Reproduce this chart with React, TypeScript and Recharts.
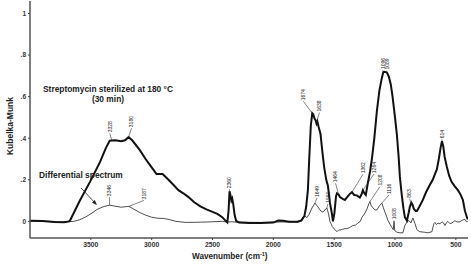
import React from 'react';
import { LineChart, Line, XAxis, YAxis, ReferenceDot } from 'recharts';

// Streptomycin sterilized at 180 °C (thick line)
const sampleWavenumbers = [4000,3900,3800,3720,3680,3671,3590,3507,3425,3375,3345,3300,3250,3220,3190,3160,3100,3050,3000,2960,2910,2870,2820,2780,2740,2700,2650,2600,2550,2500,2460,2420,2395,2378,2368,2360,2352,2345,2338,2330,2318,2305,2280,2200,2100,2000,1960,1920,1870,1800,1770,1745,1730,1716,1705,1692,1680,1672,1662,1652,1645,1638,1628,1612,1598,1582,1565,1551,1535,1518,1510,1498,1485,1477,1464,1453,1430,1412,1395,1375,1354,1335,1314,1289,1275,1264,1252,1240,1223,1205,1190,1170,1149,1128,1108,1096,1085,1066,1050,1035,1020,1000,985,970,960,945,930,919,902,888,878,866,856,845,830,820,800,771,745,714,690,670,656,640,625,614,603,592,575,555,535,510,483,462,442,425,409,402];
const sampleKM = [0.003,0.002,-0.003,-0.004,0.0,0.004,0.1,0.19,0.285,0.355,0.388,0.39,0.385,0.39,0.405,0.39,0.345,0.3,0.26,0.228,0.228,0.205,0.175,0.15,0.135,0.118,0.092,0.072,0.058,0.046,0.036,0.02,0.005,-0.005,0.05,0.145,0.125,0.1,0.11,0.085,0.03,0.002,-0.006,-0.008,-0.008,-0.006,0.004,0.003,-0.002,-0.002,0.004,0.025,0.07,0.15,0.3,0.46,0.52,0.515,0.495,0.485,0.47,0.48,0.455,0.42,0.34,0.26,0.2,0.17,0.09,0.035,0.0,0.04,0.12,0.135,0.13,0.117,0.108,0.103,0.115,0.13,0.14,0.127,0.125,0.115,0.13,0.15,0.135,0.127,0.185,0.24,0.3,0.4,0.53,0.63,0.69,0.718,0.72,0.716,0.695,0.66,0.6,0.5,0.42,0.31,0.215,0.13,0.06,0.02,0.004,0.04,0.07,0.09,0.08,0.06,0.05,0.05,0.07,0.103,0.14,0.175,0.2,0.23,0.25,0.3,0.355,0.385,0.36,0.31,0.265,0.22,0.19,0.17,0.15,0.13,0.103,0.05,0.02,0.01];

// Differential spectrum (thin line)
const diffWavenumbers = [4000,3850,3720,3640,3590,3540,3490,3450,3400,3346,3300,3250,3210,3187,3150,3100,3050,3000,2950,2900,2850,2800,2720,2600,2500,2420,2380,2340,2300,2100,1950,1800,1770,1757,1740,1724,1705,1683,1658,1634,1610,1593,1575,1560,1548,1535,1515,1494,1477,1460,1453,1430,1410,1395,1375,1346,1325,1305,1285,1272,1258,1247,1230,1215,1206,1195,1181,1165,1149,1128,1108,1095,1083,1070,1058,1040,1025,1014,1008,1002,984,960,935,919,894,880,870,853,836,820,796,760,730,697,680,672,660,647,630,614,600,590,575,565,550,533,520,508,490,467,450,426,412,402];
const diffKM = [0.002,0.0,-0.003,0.0,0.008,0.022,0.04,0.057,0.07,0.078,0.073,0.068,0.071,0.072,0.06,0.043,0.03,0.02,0.015,0.014,0.008,0.0,-0.005,-0.004,-0.002,0.0,-0.003,-0.002,-0.004,-0.005,-0.003,-0.003,0.005,0.02,0.025,0.018,0.035,0.064,0.088,0.07,0.05,0.045,0.055,0.065,0.04,0.0,-0.025,-0.04,-0.05,-0.04,-0.042,-0.038,-0.035,-0.035,-0.03,-0.02,-0.018,-0.008,0.0,0.02,0.03,0.04,0.06,0.085,0.095,0.075,0.065,0.055,0.055,0.075,0.088,0.065,0.045,0.025,0.005,-0.015,-0.03,-0.04,0.0,-0.045,-0.052,-0.055,-0.055,-0.02,0.005,0.0,-0.008,0.016,-0.01,-0.04,-0.05,-0.052,-0.055,-0.05,-0.01,-0.005,-0.015,-0.008,-0.012,-0.002,-0.008,-0.02,-0.005,0.0,-0.01,-0.008,-0.002,0.003,-0.003,-0.002,0.005,0.01,-0.002,0.0];

const xTicks = [3500, 3000, 2500, 2000, 1500, 1000, 500];
const yTicks = [0, 0.2, 0.4, 0.6, 0.8, 1];

// Peak annotations
const peakTexts = ['3328','3180','3346','3187','2360','1674','1638','1096','1089','614','1464','1362','1264','1649','1550','1208','1116','1008','863'];
const peakWn = [3328,3190,3346,3187,2360,1680,1645,1096,1075,614,1464,1354,1264,1658,1560,1206,1108,1008,866];
const peakKM = [0.39,0.405,0.078,0.072,0.145,0.52,0.48,0.718,0.716,0.385,0.13,0.14,0.15,0.088,0.065,0.095,0.088,0.0,0.09];
// label placement offsets in px relative to the peak (layout only)
const peakOffsets: [number, number][] = [[-2,-8],[3,-10],[0,-9],[15,-7],[0,-3],[-9,-13],[3,-10],[-0.5,-3],[1,-3],[0,-3],[-3,-12],[11,-19],[11,-17],[2,-6],[1,-5],[10,-16],[7,-9],[0,-2],[-2,-5]];

const sampleData = sampleWavenumbers.map((wn, i) => ({ wn, km: sampleKM[i] }));
const diffData = diffWavenumbers.map((wn, i) => ({ wn, km: diffKM[i] }));

const FONT = '"Liberation Sans", Arial, sans-serif';

const fmtY = (v: number) => (v === 0 ? '0' : v === 1 ? '1' : String(v).replace(/^0/, ''));

const PeakLabel = (props: any) => {
  const { cx, cy, text, off } = props;
  if (cx == null || cy == null) return null;
  const tx = cx + off[0];
  const ty = cy + off[1];
  return (
    <g>
      <line x1={cx} y1={cy} x2={tx} y2={ty + 1} stroke="#333" strokeWidth={0.6} />
      <text
        transform={`translate(${tx},${ty}) rotate(-90)`}
        dy="0.35em"
        fontSize={5}
        fontFamily={FONT}
        fill="#222"
        textAnchor="start"
      >
        {text}
      </text>
    </g>
  );
};

export default function App() {
  return (
    <div style={{ position: 'absolute', left: 0, top: 0, width: 471, height: 269, background: '#fff' }}>
      <LineChart width={471} height={269} margin={{ top: 1, right: 3, left: 0, bottom: 0 }}>
        <XAxis
          xAxisId="top"
          orientation="top"
          type="number"
          dataKey="wn"
          domain={[400, 4000]}
          reversed
          height={0}
          tick={false}
          tickLine={false}
          axisLine={{ stroke: '#8a8a8a', strokeWidth: 2 }}
        />
        <YAxis
          yAxisId="right"
          orientation="right"
          type="number"
          domain={[-0.08, 1.06]}
          width={0}
          tick={false}
          tickLine={false}
          axisLine={{ stroke: '#555', strokeWidth: 2 }}
        />
        <XAxis
          type="number"
          dataKey="wn"
          domain={[400, 4000]}
          reversed
          allowDataOverflow
          ticks={xTicks}
          height={31}
          tickSize={2}
          tickLine={{ stroke: '#444' }}
          axisLine={{ stroke: '#555', strokeWidth: 1.5 }}
          tick={{ fontSize: 6.8, fontWeight: 700, fontFamily: FONT, fill: '#333' }}
          label={{
            content: () => (
              <text x={192} y={259} fontSize={8.2} fontWeight={700} fontFamily={FONT} fill="#222">
                Wavenumber (cm<tspan dy={-3} fontSize={5.5}>-1</tspan><tspan dy={3}>)</tspan>
              </text>
            ),
          }}
        />
        <YAxis
          type="number"
          domain={[-0.08, 1.06]}
          allowDataOverflow
          ticks={yTicks}
          tickFormatter={fmtY}
          width={30}
          tickSize={2}
          tickLine={{ stroke: '#444' }}
          axisLine={{ stroke: '#555', strokeWidth: 1.5 }}
          tick={{ fontSize: 6.5, fontWeight: 700, fontFamily: FONT, fill: '#333' }}
          label={{
            content: () => (
              <text
                transform="translate(13,126) rotate(-90)"
                textAnchor="middle"
                fontSize={8.5}
                fontWeight={700}
                fontFamily={FONT}
                fill="#222"
              >
                Kubelka-Munk
              </text>
            ),
          }}
        />
        <Line
          data={diffData}
          dataKey="km"
          type="linear"
          stroke="#222"
          strokeWidth={0.8}
          dot={false}
          isAnimationActive={false}
        />
        <Line
          data={sampleData}
          dataKey="km"
          type="linear"
          stroke="#111"
          strokeWidth={2}
          dot={false}
          isAnimationActive={false}
        />
        {peakTexts.map((t, i) => (
          <ReferenceDot
            key={t + i}
            x={peakWn[i]}
            y={peakKM[i]}
            r={0}
            isFront
            shape={(p: any) => <PeakLabel {...p} text={t} off={peakOffsets[i]} />}
          />
        ))}
        <ReferenceDot
          x={3359}
          y={0.622}
          r={0}
          isFront
          shape={(p: any) => (
            <g>
              <text x={p.cx} y={p.cy} textAnchor="middle" fontSize={8.4} fontWeight={700} fontFamily={FONT} fill="#222">
                Streptomycin sterilized at 180 °C
              </text>
              <text x={p.cx} y={p.cy + 10} textAnchor="middle" fontSize={8.4} fontWeight={700} fontFamily={FONT} fill="#222">
                (30 min)
              </text>
            </g>
          )}
        />
        <ReferenceDot
          x={3449}
          y={0.079}
          r={0}
          isFront
          shape={(p: any) => (
            <g>
              <text x={p.cx - 58} y={p.cy - 27} fontSize={8.4} fontWeight={700} fontFamily={FONT} fill="#222">
                Differential spectrum
              </text>
              <line x1={p.cx - 16} y1={p.cy - 17} x2={p.cx - 2} y2={p.cy - 2} stroke="#222" strokeWidth={0.8} />
              <polygon
                points={`${p.cx},${p.cy} ${p.cx - 5},${p.cy - 2.2} ${p.cx - 2.2},${p.cy - 5}`}
                fill="#222"
              />
            </g>
          )}
        />
      </LineChart>
    </div>
  );
}
